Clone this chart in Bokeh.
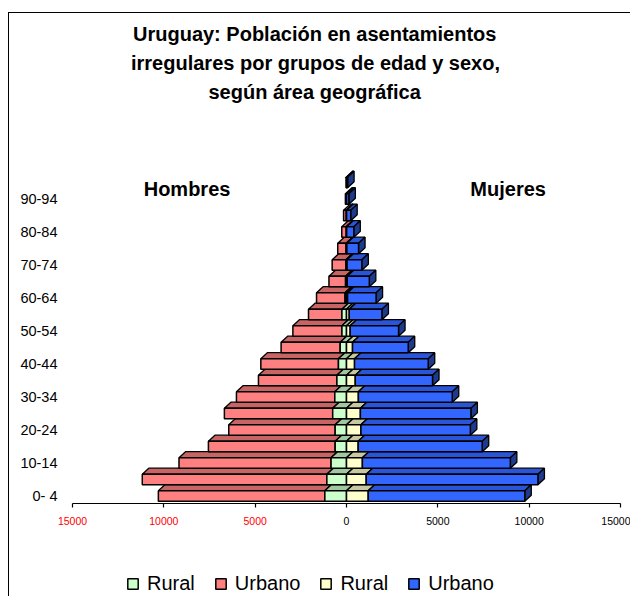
import numpy as np
from bokeh.plotting import figure
from bokeh.models import Range1d, FixedTicker, Label, Title, Legend, LegendItem, LinearAxis
from bokeh.embed import file_html
from bokeh.resources import INLINE

# ---------------- data ----------------
age_groups = ["0- 4", "5- 9", "10-14", "15-19", "20-24", "25-29", "30-34", "35-39",
              "40-44", "45-49", "50-54", "55-59", "60-64", "65-69", "70-74", "75-79",
              "80-84", "85-89", "90-94", "95 y más"]
hombres_rural = [1185, 1075, 845, 620, 620, 755, 640, 525, 440, 345,
                 250, 250, 80, 50, 30, 20, 10, 5, 0, 0]
hombres_urbano = [9115, 10105, 8325, 6940, 5825, 5930, 5385, 4295, 4250, 3235,
                  2685, 1830, 1560, 910, 755, 460, 250, 155, 60, 20]
mujeres_rural = [1190, 1080, 870, 640, 790, 760, 650, 480, 440, 330,
                 200, 150, 60, 40, 30, 20, 10, 5, 0, 0]
mujeres_urbano = [8570, 9400, 8100, 6790, 5990, 6050, 5140, 4230, 4035, 3050,
                  2650, 1790, 1560, 1210, 810, 640, 390, 225, 130, 60]
x_ticks = [-15000, -10000, -5000, 0, 5000, 10000, 15000]
x_tick_labels = ["15000", "10000", "5000", "0", "5000", "10000", "15000"]
title_lines = ["Uruguay: Población en asentamientos",
               "irregulares por grupos de edad y sexo,",
               "según área geográfica"]
sex_labels = ["Hombres", "Mujeres"]
legend_labels = ["Rural", "Urbano", "Rural", "Urbano"]

# ---------------- layout ----------------
W, H = 622, 584
MB_TOP = 92
FRAME_H = H - MB_TOP
PAD_LEFT_PX, PAD_RIGHT_PX = 63, 11      # frame space left / right of the value axis
AXIS_W_PX = W - PAD_LEFT_PX - PAD_RIGHT_PX
ROW_PX = 16.5
AXIS_FROM_BOTTOM_PX = 94                # x-axis line sits this far above the frame bottom
Y0 = -0.455                             # data y of the x-axis line
Y_START = Y0 - AXIS_FROM_BOTTOM_PX / ROW_PX
XMIN, XMAX = -15000, 15000
PX_PER_X = AXIS_W_PX / (XMAX - XMIN)
HALF = 0.32
DX = 6.5 / PX_PER_X
DY = 6.0 / ROW_PX
FONT = "Liberation Sans"
TITLE_CENTER_PX = 305                   # title centre, from the frame's left edge
TITLE_WIDTHS_PX = [363, 367, 212]

p = figure(width=W, height=H,
           x_range=Range1d(XMIN - PAD_LEFT_PX / PX_PER_X, XMAX + PAD_RIGHT_PX / PX_PER_X),
           y_range=Range1d(Y_START, Y_START + FRAME_H / ROW_PX),
           output_backend="svg", toolbar_location=None,
           min_border_left=0, min_border_right=0,
           min_border_top=MB_TOP, min_border_bottom=0)
p.styles = {"margin-top": "12px", "margin-left": "8px",
            "border-top": "1px solid black", "border-left": "1px solid black"}
p.xgrid.visible = False
p.ygrid.visible = False
p.outline_line_color = None
p.background_fill_color = "white"
p.border_fill_color = "white"

# ---------------- 3D stacked bars ----------------
def draw_segment(lo, hi, front, top, side):
    rows = [i for i in range(len(lo)) if hi[i] - lo[i] > 0]
    l = np.array([lo[i] for i in rows], dtype=float)
    r = np.array([hi[i] for i in rows], dtype=float)
    yc = np.array(rows, dtype=float)
    yb, yt = yc - HALF, yc + HALF
    p.patches(xs=[[a, b, b + DX, a + DX] for a, b in zip(l, r)],
              ys=[[t, t, t + DY, t + DY] for t in yt],
              fill_color=top, line_color="black", line_width=1.3)
    p.patches(xs=[[b, b + DX, b + DX, b] for b in r],
              ys=[[bb, bb + DY, t + DY, t] for bb, t in zip(yb, yt)],
              fill_color=side, line_color="black", line_width=1.3)
    return p.quad(left=l, right=r, bottom=yb, top=yt,
                  fill_color=front, line_color="black", line_width=1.5)

hr = np.array(hombres_rural, dtype=float)
hu = np.array(hombres_urbano, dtype=float)
mr = np.array(mujeres_rural, dtype=float)
mu = np.array(mujeres_urbano, dtype=float)

r_hu = draw_segment(-(hr + hu), -hr, "#FF8080", "#C86464", "#8C4646")
r_hr = draw_segment(-hr, np.zeros_like(hr), "#CCFFCC", "#A0C8A0", "#80A080")
r_mr = draw_segment(np.zeros_like(mr), mr, "#FFFFCC", "#C8C8A0", "#A0A080")
r_mu = draw_segment(mr, mr + mu, "#3366FF", "#2A55D8", "#1E3A8C")

# ---------------- axes ----------------
xa = p.xaxis[0]
xa.fixed_location = Y0
xa.bounds = (XMIN, XMAX)
xa.ticker = FixedTicker(ticks=x_ticks)
xa.major_label_overrides = {t: (lab if t >= 0 else "") for t, lab in zip(x_ticks, x_tick_labels)}
xa.axis_line_color = "black"
xa.axis_line_width = 1.2
xa.major_tick_line_width = 1.2
xa.major_tick_out = 4
xa.major_tick_in = 0
xa.minor_tick_line_color = None
xa.major_label_standoff = 9
xa.major_label_text_font = FONT
xa.major_label_text_font_size = "10.5px"
xa.major_label_text_color = "black"

neg_ticks = [t for t in x_ticks if t < 0]
xa_neg = LinearAxis(ticker=FixedTicker(ticks=neg_ticks), fixed_location=Y0,
                    bounds=(XMIN, XMAX),
                    major_label_overrides={t: lab for t, lab in zip(x_ticks, x_tick_labels) if t < 0},
                    axis_line_color=None, major_tick_line_color=None, minor_tick_line_color=None,
                    major_tick_out=0, major_tick_in=0, major_label_standoff=13,
                    major_label_text_font=FONT, major_label_text_font_size="10.5px",
                    major_label_text_color="#FF0000")
p.add_layout(xa_neg, "below")

ya = p.yaxis[0]
ya.fixed_location = XMIN
ya.ticker = FixedTicker(ticks=list(range(0, 20, 2)))
ya.major_label_overrides = {i: age_groups[i] for i in range(0, 20, 2)}
ya.axis_line_color = None
ya.major_tick_line_color = None
ya.major_tick_out = 0
ya.major_tick_in = 0
ya.minor_tick_line_color = None
ya.major_label_standoff = 15
ya.major_label_text_font = FONT
ya.major_label_text_font_size = "14.5px"
ya.major_label_text_color = "black"

# ---------------- texts ----------------
for x, txt in zip([-8730, 8850], sex_labels):
    p.add_layout(Label(x=x, y=18.62, text=txt, text_align="center", text_baseline="middle",
                       text_font=FONT, text_font_size="20px", text_font_style="bold",
                       text_color="black"))

for line, w in reversed(list(zip(title_lines, TITLE_WIDTHS_PX))):
    p.add_layout(Title(text=line, align="left", offset=TITLE_CENTER_PX - w / 2, standoff=5,
                       text_font=FONT, text_font_size="20px", text_font_style="bold",
                       text_color="black"), "above")

# ---------------- legend ----------------
legend = Legend(items=[LegendItem(label=legend_labels[0], renderers=[r_hr]),
                       LegendItem(label=legend_labels[1], renderers=[r_hu]),
                       LegendItem(label=legend_labels[2], renderers=[r_mr]),
                       LegendItem(label=legend_labels[3], renderers=[r_mu])],
                location=(117, 2), orientation="horizontal",
                glyph_width=13, glyph_height=13, label_standoff=8, spacing=19,
                padding=0, margin=0, border_line_color=None, background_fill_alpha=0,
                label_text_font=FONT, label_text_font_size="20px", label_text_color="black")
p.add_layout(legend, "center")

open("out.html", "w").write(file_html(p, INLINE, title="Uruguay"))
